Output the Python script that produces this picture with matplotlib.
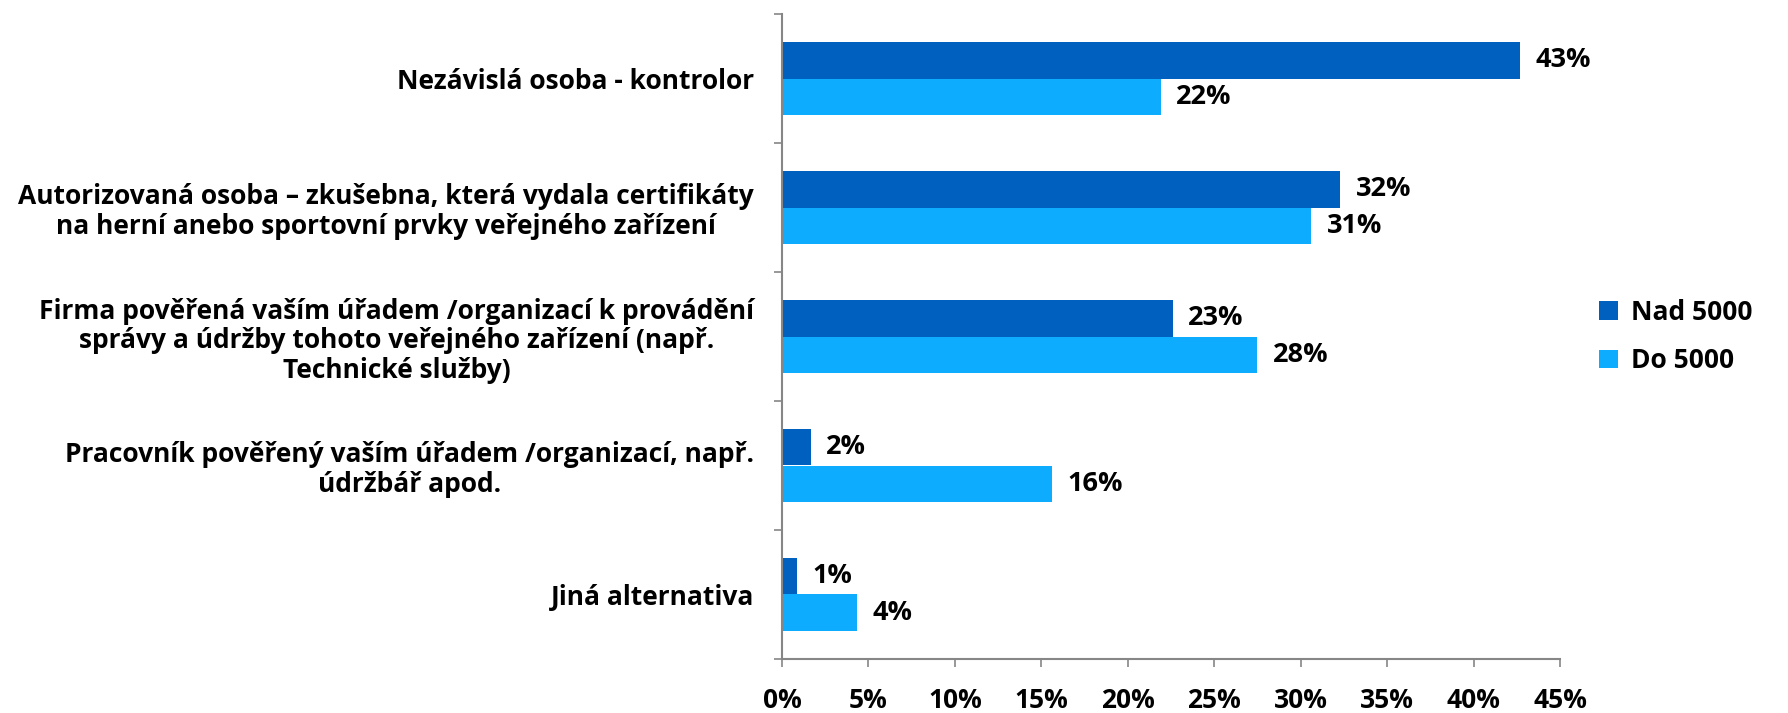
import numpy as np
from matplotlib import pyplot as plt
from matplotlib.ticker import FixedLocator, PercentFormatter

categories = [
    "Nezávislá osoba - kontrolor",
    "Autorizovaná osoba – zkušebna, která vydala certifikáty\nna herní anebo sportovní prvky veřejného zařízení",
    "Firma pověřená vaším úřadem /organizací k provádění\nsprávy a údržby tohoto veřejného zařízení (např.\nTechnické služby)",
    "Pracovník pověřený vaším úřadem /organizací, např.\núdržbář apod.",
    "Jiná alternativa",
]
nad_5000 = [42.7, 32.3, 22.6, 1.65, 0.86]
do_5000 = [21.9, 30.6, 27.5, 15.6, 4.35]
series_names = ["Nad 5000", "Do 5000"]
x_ticks = [0, 5, 10, 15, 20, 25, 30, 35, 40, 45]

plt.rcParams["font.family"] = ["Open Sans", "DejaVu Sans"]
plt.rcParams["font.weight"] = "bold"

fig = plt.figure(figsize=(17.88, 7.13), dpi=100)
ax = fig.add_axes([782 / 1788, 1 - 659 / 713, (1560 - 782) / 1788, (659 - 14) / 713])

y = np.arange(len(categories))
h = 0.283
ax.barh(y - h / 2, nad_5000, height=h, color="#0060BF", label=series_names[0])
ax.barh(y + h / 2, do_5000, height=h, color="#0EACFF", label=series_names[1])

for yi, v in zip(y, nad_5000):
    ax.text(v + 0.9, yi - h / 2, f"{round(v):.0f}%", va="center", ha="left",
            fontsize=19.5, fontweight="bold")
for yi, v in zip(y, do_5000):
    ax.text(v + 0.9, yi + h / 2, f"{round(v):.0f}%", va="center", ha="left",
            fontsize=19.5, fontweight="bold")

ax.set_xlim(0, 45)
ax.set_ylim(len(categories) - 0.5, -0.5)
ax.xaxis.set_major_locator(FixedLocator(x_ticks))
ax.xaxis.set_major_formatter(PercentFormatter(decimals=0))
ax.set_yticks(y)
ax.set_yticklabels(categories, fontsize=19, fontweight="bold", ha="right",
                   multialignment="center", linespacing=1.12)
ax.yaxis.set_minor_locator(FixedLocator(np.arange(-0.5, len(categories), 1)))
ax.tick_params(axis="y", which="major", length=0, pad=20)
ax.tick_params(axis="y", which="minor", length=6, color="#868686", width=1.2)
ax.tick_params(axis="x", length=6, color="#868686", width=1.2, labelsize=19, pad=14)
for lbl in ax.get_xticklabels():
    lbl.set_fontweight("bold")

for s in ["top", "right"]:
    ax.spines[s].set_visible(False)
for s in ["left", "bottom"]:
    ax.spines[s].set_color("#868686")
    ax.spines[s].set_linewidth(1.5)

ax.legend(loc="center left", bbox_to_anchor=(1.02, 0.5), frameon=False,
          fontsize=19, handlelength=0.7, handleheight=0.7, labelspacing=0.8,
          handletextpad=0.5)

fig.savefig("out.png", dpi=100)
